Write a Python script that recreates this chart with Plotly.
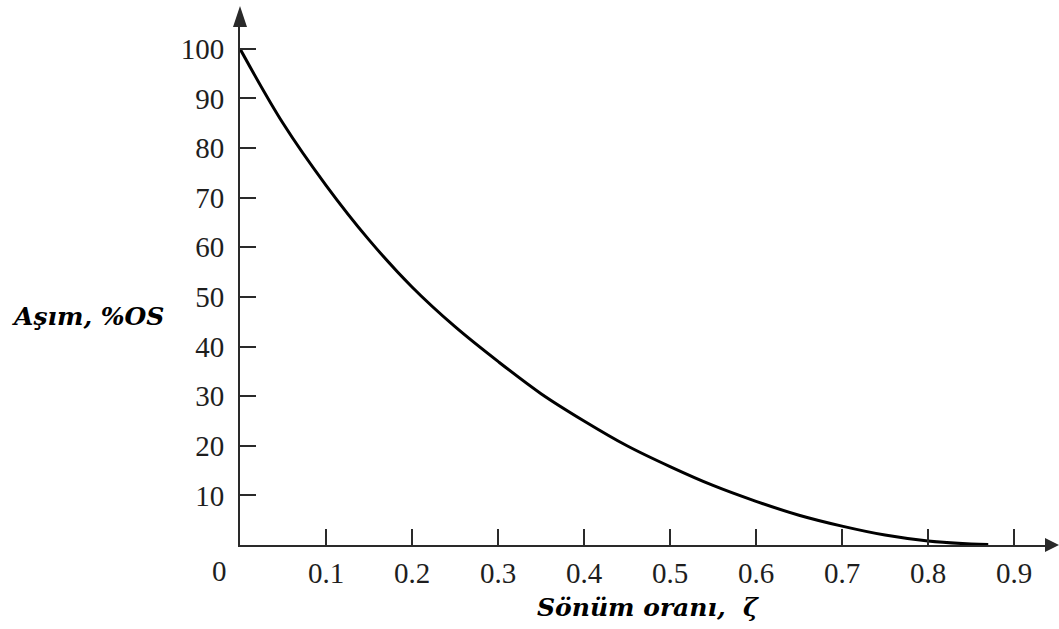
import plotly.graph_objects as go

# values
zeta = [0.0, 0.05, 0.10, 0.15, 0.20, 0.25, 0.30, 0.35, 0.40, 0.45, 0.50,
        0.55, 0.60, 0.65, 0.70, 0.75, 0.80, 0.85, 0.87]
overshoot = [100, 85, 72.5, 61.5, 52, 44, 37, 30.5, 25, 20, 15.8,
             12, 8.8, 6, 3.8, 2, 0.8, 0.2, 0.1]

x_ticks = [0.1, 0.2, 0.3, 0.4, 0.5, 0.6, 0.7, 0.8, 0.9]
x_tick_text = ["0.1", "0.2", "0.3", "0.4", "0.5", "0.6", "0.7", "0.8", "0.9"]
y_ticks = [10, 20, 30, 40, 50, 60, 70, 80, 90, 100]
y_tick_text = [str(v) for v in y_ticks]

x_title = "Sönüm oranı,  ζ"
y_title = "Aşım, %OS"

AX = "#2a2a2a"
TICKFONT = dict(family="Liberation Serif", size=29, color="#1e1e1e")
TITLEFONT = dict(family="DejaVu Serif", size=25, color="#000000")

fig = go.Figure()
fig.add_trace(go.Scatter(
    x=zeta, y=overshoot, mode="lines",
    line=dict(color="#000000", width=3, shape="spline", smoothing=1.0),
    hoverinfo="skip", showlegend=False,
))

fig.update_layout(
    width=1059, height=629,
    margin=dict(l=240, r=14, t=27, b=84, pad=0),
    paper_bgcolor="white", plot_bgcolor="white",
    xaxis=dict(
        range=[0, 0.936], showgrid=False, zeroline=False,
        showline=True, linecolor=AX, linewidth=2,
        ticks="inside", ticklen=16, tickwidth=2, tickcolor=AX,
        tickvals=x_ticks, ticktext=x_tick_text, tickfont=TICKFONT,
        ticklabelstandoff=1,
    ),
    yaxis=dict(
        range=[0, 104.4], showgrid=False, zeroline=False,
        showline=True, linecolor=AX, linewidth=2,
        ticks="inside", ticklen=16, tickwidth=2, tickcolor=AX,
        tickvals=y_ticks, ticktext=y_tick_text, tickfont=TICKFONT,
        ticklabelstandoff=8,
    ),
    shapes=[
        # arrow head on top of y axis
        dict(type="path", xref="paper", yref="paper",
             xsizemode="pixel", ysizemode="pixel", xanchor=0, yanchor=1,
             path="M-7,0 L7,0 L0,21 Z", fillcolor=AX, line=dict(width=0)),
        # arrow head at right end of x axis
        dict(type="path", xref="paper", yref="paper",
             xsizemode="pixel", ysizemode="pixel", xanchor=1, yanchor=0,
             path="M0,-7 L0,7 L14,0 Z", fillcolor=AX, line=dict(width=0)),
    ],
    annotations=[
        dict(text="0", xref="x", yref="y", x=0, y=0, xshift=-21, yshift=-26,
             showarrow=False, font=TICKFONT),
        dict(text="<b><i>" + y_title + "</i></b>", xref="paper", yref="paper",
             x=-0.2857, y=0.442, xanchor="left", yanchor="middle",
             showarrow=False, font=TITLEFONT),
        dict(text="<b><i>" + x_title + "</i></b>", xref="paper", yref="paper",
             x=0.5068, y=-0.1197, xanchor="center", yanchor="middle",
             showarrow=False, font=TITLEFONT),
    ],
)

fig.write_html("out.html")
